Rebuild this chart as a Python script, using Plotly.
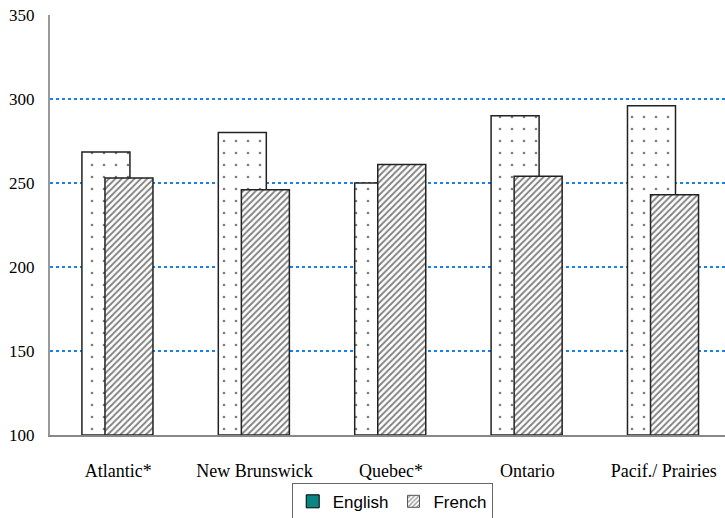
import plotly.graph_objects as go

regions = ["Atlantic*", "New Brunswick", "Quebec*", "Ontario", "Pacif./ Prairies"]
english = [268.5, 280, 250, 290, 296]
french = [253, 246, 261, 254, 243]
y_ticks = [100, 150, 200, 250, 300, 350]

bar_width = 0.352
english_offset = -0.266
french_offset = -0.097

fig = go.Figure()

# English bars: white with a sparse dot pattern
fig.add_trace(go.Bar(
    x=regions, y=[v - 100 for v in english], base=100,
    width=bar_width, offset=english_offset,
    marker=dict(color="white", line=dict(color="#222222", width=1.5),
                pattern=dict(shape=".", fgcolor="black", bgcolor="white",
                             size=12, solidity=0.04)),
    name="English", showlegend=False, hoverinfo="skip",
))

# French bars: diagonal hatching, drawn over the English bars
fig.add_trace(go.Bar(
    x=regions, y=[v - 100 for v in french], base=100,
    width=bar_width, offset=french_offset,
    marker=dict(color="white", line=dict(color="#222222", width=1.5),
                pattern=dict(shape="/", fgcolor="black", bgcolor="white",
                             size=4.5, solidity=0.4)),
    name="French", showlegend=False, hoverinfo="skip",
))

# Legend entries
fig.add_trace(go.Scatter(
    x=[None], y=[None], mode="markers", name="English",
    marker=dict(symbol="square", size=13, color="#0b8484",
                line=dict(color="black", width=1)),
))
fig.add_trace(go.Bar(
    x=[None], y=[None], name="French",
    marker=dict(color="white", line=dict(color="#555555", width=1),
                pattern=dict(shape="/", fgcolor="#333333", bgcolor="white",
                             size=4, solidity=0.45)),
))

fig.update_layout(
    width=725, height=518,
    margin=dict(l=50, r=0, t=15, b=83, autoexpand=False),
    paper_bgcolor="white", plot_bgcolor="white",
    barmode="overlay",
    font=dict(family="Liberation Serif", size=17, color="black"),
    showlegend=True,
    legend=dict(orientation="h", x=0.507, xanchor="center",
                yref="container", y=0.068, yanchor="top",
                bordercolor="#666666", borderwidth=1, bgcolor="white",
                font=dict(family="Liberation Sans", size=17, color="black"),
                itemwidth=30, tracegroupgap=0),
    xaxis=dict(range=[-0.5, 4.449], showgrid=False, showline=True,
               linecolor="#888888", linewidth=2, ticks="",
               ticklabelstandoff=18, tickfont=dict(size=18)),
    yaxis=dict(range=[100, 350], tickvals=y_ticks, showgrid=True,
               gridcolor="#1a7fe6", griddash="dot", gridwidth=1.5,
               showline=True, linecolor="#999999", linewidth=2,
               zeroline=False, ticks="", ticklabelstandoff=10,
               tickfont=dict(size=17)),
)

fig.write_html("out.html")
